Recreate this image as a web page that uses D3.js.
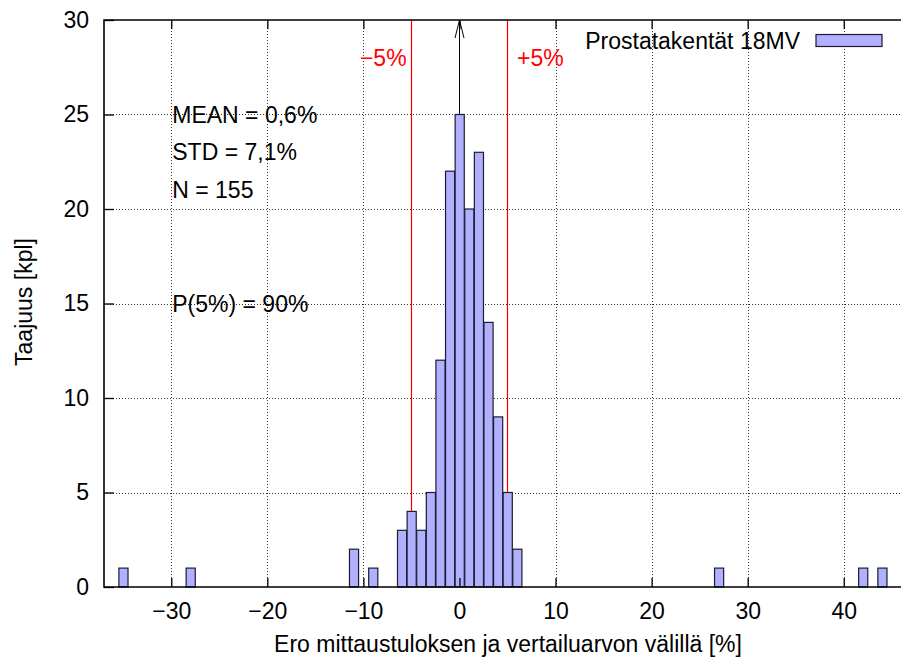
<!DOCTYPE html>
<html>
<head>
<meta charset="utf-8">
<script src="https://cdn.jsdelivr.net/npm/d3@7"></script>
<style>
  body { margin: 0; background: #fff; }
  svg text { font-family: "Liberation Sans", Arial, sans-serif; }
</style>
</head>
<body>
<div id="chart"></div>
<script>
// histogram bins (centre of bin, %), and counts
const binCenters = [-35, -28, -11, -9, -6, -5, -4, -3, -2, -1, 0, 1, 2, 3, 4, 5, 6, 27, 42, 44];
const binCounts  = [1, 1, 2, 1, 3, 4, 3, 5, 12, 22, 25, 20, 23, 14, 9, 5, 2, 1, 1, 1];

const xTicks = [-30, -20, -10, 0, 10, 20, 30, 40];
const yTicks = [0, 5, 10, 15, 20, 25, 30];

const seriesName = "Prostatakentät 18MV";
const xTitle = "Ero mittaustuloksen ja vertailuarvon välillä [%]";
const yTitle = "Taajuus [kpl]";

// text annotations in data coordinates
const statTexts = ["MEAN = 0,6%", "STD = 7,1%", "N = 155", "P(5%) = 90%"];
const statY = [25, 23, 21, 15];
const limitValues = [-5, 5];
const limitTexts = ["−5%", "+5%"];

const width = 901, height = 659;
const margin = { top: 20, left: 104 };
const plotRight = 911, plotBottom = 587;
const fontSize = 23;
const barColor = "#b0b0ff";

const svg = d3.select("#chart").append("svg")
    .attr("width", width)
    .attr("height", height);

const x = d3.scaleLinear().domain([-37, 47]).range([margin.left, plotRight]);
const y = d3.scaleLinear().domain([0, 30]).range([plotBottom, margin.top]);
const px = v => Math.round(x(v)) + 0.5;

// grid (dotted)
const grid = svg.append("g").attr("class", "grid");
grid.selectAll(".gx").data(xTicks).enter().append("line")
    .attr("x1", d => px(d)).attr("x2", d => px(d))
    .attr("y1", y(0)).attr("y2", y(30))
    .attr("stroke", "#333").attr("stroke-dasharray", "1,2");
grid.selectAll(".gy").data(yTicks.filter(d => d > 0 && d < 30)).enter().append("line")
    .attr("x1", x(-37)).attr("x2", plotRight)
    .attr("y1", d => Math.round(y(d)) + 0.5).attr("y2", d => Math.round(y(d)) + 0.5)
    .attr("stroke", "#333").attr("stroke-dasharray", "1,2");

// +-5% limit lines
svg.selectAll(".limit").data(limitValues).enter().append("line")
    .attr("x1", d => Math.floor(x(d)) + 0.5).attr("x2", d => Math.floor(x(d)) + 0.5)
    .attr("y1", y(0)).attr("y2", y(30))
    .attr("stroke", "#ff0000").attr("stroke-width", 1.2);

// arrow from the highest bar to the top
const peak = d3.max(binCounts);
const peakX = binCenters[binCounts.indexOf(peak)];
svg.append("line")
    .attr("x1", px(peakX)).attr("x2", px(peakX))
    .attr("y1", y(peak)).attr("y2", y(30))
    .attr("stroke", "#000");
svg.append("path")
    .attr("d", `M${px(peakX) - 4.5},${y(30) + 18} L${px(peakX)},${y(30)} L${px(peakX) + 4.5},${y(30) + 18}`)
    .attr("fill", "none").attr("stroke", "#000");

// bars
const data = binCenters.map((c, i) => ({ c: c, n: binCounts[i] }));
svg.selectAll(".bar").data(data).enter().append("rect")
    .attr("class", "bar")
    .attr("x", d => x(d.c - 0.45))
    .attr("width", d => x(d.c + 0.5) - x(d.c - 0.45))
    .attr("y", d => y(d.n))
    .attr("height", d => y(0) - y(d.n))
    .attr("fill", barColor)
    .attr("stroke", "#1c1c30")
    .attr("stroke-width", 1.2);

// frame
svg.append("path")
    .attr("d", `M${plotRight},${y(30)} L${x(-37)},${y(30)} L${x(-37)},${y(0)} L${plotRight},${y(0)}`)
    .attr("fill", "none").attr("stroke", "#000").attr("stroke-width", 1.6);

// axes (ticks inward, mirrored on top)
const xAxis = svg.append("g").attr("transform", `translate(0,${y(0)})`)
    .call(d3.axisBottom(x).tickValues(xTicks).tickSize(-9).tickPadding(16));
xAxis.select(".domain").remove();
xAxis.selectAll(".tick line").attr("stroke-width", 1.3);
xAxis.selectAll(".tick text").attr("font-size", fontSize).attr("fill", "#000")
    .attr("font-family", "Liberation Sans, Arial, sans-serif");

const xTop = svg.append("g").attr("transform", `translate(0,${y(30)})`)
    .call(d3.axisTop(x).tickValues(xTicks).tickSize(-9).tickFormat(""));
xTop.select(".domain").remove();
xTop.selectAll(".tick line").attr("stroke-width", 1.3);

const yAxis = svg.append("g").attr("transform", `translate(${x(-37)},0)`)
    .call(d3.axisLeft(y).tickValues(yTicks).tickSize(-10).tickPadding(15));
yAxis.select(".domain").remove();
yAxis.selectAll(".tick line").attr("stroke-width", 1.3);
yAxis.selectAll(".tick text").attr("font-size", fontSize).attr("fill", "#000")
    .attr("font-family", "Liberation Sans, Arial, sans-serif");

// axis titles
svg.append("text")
    .attr("x", 508)
    .attr("y", 652)
    .attr("text-anchor", "middle")
    .attr("font-size", fontSize)
    .text(xTitle);
svg.append("text")
    .attr("transform", `translate(32,${302}) rotate(-90)`)
    .attr("text-anchor", "middle")
    .attr("font-size", fontSize)
    .text(yTitle);

// statistics labels
svg.selectAll(".stat").data(statTexts).enter().append("text")
    .attr("x", x(-30) + 1)
    .attr("y", (d, i) => y(statY[i]))
    .attr("dy", "0.35em")
    .attr("font-size", fontSize)
    .text(d => d);

// limit labels
svg.append("text")
    .attr("x", x(-5.5)).attr("y", y(28)).attr("dy", "0.35em")
    .attr("text-anchor", "end").attr("font-size", fontSize).attr("fill", "#ff0000")
    .text(limitTexts[0]);
svg.append("text")
    .attr("x", x(6)).attr("y", y(28)).attr("dy", "0.35em")
    .attr("text-anchor", "start").attr("font-size", fontSize).attr("fill", "#ff0000")
    .text(limitTexts[1]);

// legend
svg.append("text")
    .attr("x", 800).attr("y", 40.5).attr("dy", "0.35em")
    .attr("text-anchor", "end").attr("font-size", fontSize)
    .text(seriesName);
svg.append("rect")
    .attr("x", 816).attr("y", 34.5).attr("width", 66).attr("height", 12)
    .attr("fill", barColor).attr("stroke", "#1c1c30").attr("stroke-width", 1.2);
</script>
</body>
</html>
